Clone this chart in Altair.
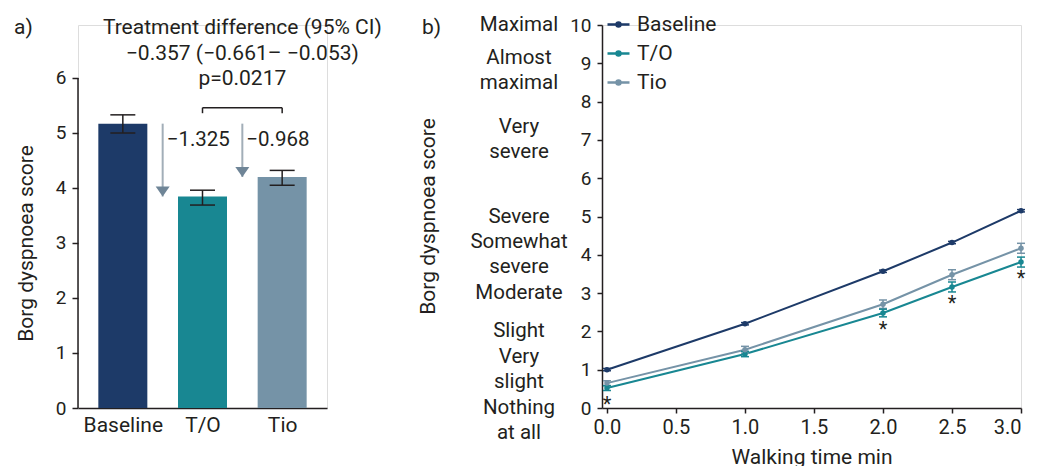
import altair as alt
import pandas as pd

FONT = "Roboto"
INK = "#231f20"

# ---------------- Panel a data ----------------
groups = ["Baseline", "T/O", "Tio"]
bar_means = [5.17, 3.845, 4.20]
bar_lo = [5.00, 3.69, 4.05]
bar_hi = [5.33, 3.96, 4.32]
bar_colors = ["#1d3a68", "#188792", "#7593a7"]
diff_labels = ["\u22121.325", "\u22120.968"]
title_lines = ["Treatment difference (95% CI)",
               "\u22120.357 (\u22120.661\u2013 \u22120.053)",
               "p=0.0217"]

# ---------------- Panel b data ----------------
times = [0.0, 1.0, 2.0, 2.5, 3.0]
baseline_vals = [1.00, 2.20, 3.57, 4.32, 5.15]
baseline_err = [0.03, 0.03, 0.03, 0.03, 0.03]
to_vals = [0.52, 1.41, 2.48, 3.16, 3.81]
to_err = [0.06, 0.07, 0.10, 0.13, 0.13]
tio_vals = [0.65, 1.52, 2.71, 3.48, 4.17]
tio_err = [0.06, 0.09, 0.11, 0.13, 0.13]
sig_times = [0.0, 2.0, 2.5, 3.0]
borg_labels = [["Maximal"], ["Almost", "maximal"], ["Very", "severe"], ["Severe"],
               ["Somewhat", "severe"], ["Moderate"], ["Slight"], ["Very", "slight"],
               ["Nothing", "at all"]]
borg_label_y = [10, 8.8, 7, 5, 4, 3, 2, 1, -0.33]

# ================= Panel a =================
idx = list(range(len(groups)))
dfa = pd.DataFrame({"idx": idx, "group": groups, "mean": bar_means,
                    "lo": bar_lo, "hi": bar_hi})
label_expr = "[" + ",".join("'%s'" % g for g in groups) + "][datum.value]"

xa_scale = alt.Scale(domain=[-0.5, 2.5], nice=False, zero=False)
ya_scale = alt.Scale(domain=[0, 6.9636], nice=False, zero=False)
xa_axis = alt.Axis(values=idx, labelExpr=label_expr, ticks=False, tickSize=0,
                   labelPadding=6, labelFontSize=21, title=None, grid=False,
                   domainColor=INK, domainWidth=1.5, labelColor=INK, labelFont=FONT,
                   labelOverlap=False)
ya_axis = alt.Axis(values=[0, 1, 2, 3, 4, 5, 6], format="d", labelOverlap=False,
                   domain=False, grid=False,
                   tickSize=6, tickColor=INK, tickWidth=1.5, labelPadding=6,
                   labelFontSize=19, labelColor=INK, labelFont=FONT,
                   title="Borg dyspnoea score", titleFontSize=21,
                   titleFont=FONT, titleFontWeight="normal", titleColor=INK,
                   titleX=-42, titleY=218)


def XA(f):
    return alt.X(f, scale=xa_scale, axis=xa_axis)


def YA(f):
    return alt.Y(f, scale=ya_scale, axis=ya_axis)


bars = alt.Chart(dfa).mark_bar(size=49).encode(
    x=XA("idx:Q"), y=YA("mean:Q"),
    color=alt.Color("group:N", scale=alt.Scale(domain=groups, range=bar_colors),
                    legend=None))
one = pd.DataFrame({"k": [0]})
yaxis_line = alt.Chart(one).mark_rule(color=INK, strokeWidth=1.5).encode(
    x=alt.value(0), y=alt.datum(0, scale=ya_scale, axis=ya_axis), y2=alt.datum(6))
err_a = alt.Chart(dfa).mark_rule(color=INK, strokeWidth=1.5).encode(
    x=XA("idx:Q"), y=YA("lo:Q"), y2="hi:Q")
cap_lo = alt.Chart(dfa).mark_tick(orient="horizontal", size=25, thickness=1.5,
                                  color=INK, opacity=1).encode(x=XA("idx:Q"), y=YA("lo:Q"))
cap_hi = alt.Chart(dfa).mark_tick(orient="horizontal", size=25, thickness=1.5,
                                  color=INK, opacity=1).encode(x=XA("idx:Q"), y=YA("hi:Q"))

arrows = pd.DataFrame({"ax": [0.5, 1.5], "start": [bar_means[0]] * 2,
                       "end": [bar_means[1], bar_means[2]], "lab": diff_labels})
shaft = alt.Chart(arrows).mark_rule(color="#a2aeb8", strokeWidth=2).encode(
    x=XA("ax:Q"), y=YA("start:Q"), y2="end:Q")
head = alt.Chart(arrows).mark_point(shape="M-0.7,-1L0.7,-1L0,0Z", size=400,
                                    filled=True, color="#6f8597", opacity=1).encode(
    x=XA("ax:Q"), y=YA("end:Q"))
diff_text = alt.Chart(arrows).mark_text(align="left", baseline="middle", dx=4,
                                        fontSize=20.5, font=FONT, color=INK).encode(
    x=XA("ax:Q"), y=alt.datum(4.87, scale=ya_scale, axis=ya_axis), text="lab:N")

brk = pd.DataFrame({"bx": [1, 2], "top": [5.46, 5.46], "drop": [5.36, 5.36]})
brk_h = alt.Chart(brk).mark_rule(color=INK, strokeWidth=1.5).encode(
    x=alt.X("min(bx):Q", scale=xa_scale, axis=xa_axis), x2=alt.X2("max(bx)"),
    y=alt.Y("max(top):Q", scale=ya_scale, axis=ya_axis))
brk_v = alt.Chart(brk).mark_rule(color=INK, strokeWidth=1.5).encode(
    x=XA("bx:Q"), y=YA("top:Q"), y2="drop:Q")

tl = pd.DataFrame({"t": [title_lines]})
title_txt = alt.Chart(tl).mark_text(align="center", baseline="alphabetic",
                                    fontSize=21, font=FONT, color=INK,
                                    lineHeight=25.5).encode(
    x=alt.datum(1.5, scale=xa_scale, axis=xa_axis), y=alt.value(9), text="t:N")
tag_a = alt.Chart(one).mark_text(align="left", baseline="alphabetic", fontSize=21,
                                 font=FONT, color=INK).encode(
    x=alt.value(-64), y=alt.value(9), text=alt.value("a)"))

panel_a = alt.layer(bars, yaxis_line, err_a, cap_lo, cap_hi, shaft, head, diff_text,
                    brk_h, brk_v, title_txt, tag_a).properties(width=249, height=383)

# ================= Panel b =================
series = ["Baseline", "T/O", "Tio"]
rows = []
for name, vals, errs in [("Baseline", baseline_vals, baseline_err),
                         ("T/O", to_vals, to_err), ("Tio", tio_vals, tio_err)]:
    for t, v, e in zip(times, vals, errs):
        rows.append({"time": t, "series": name, "val": v, "lo": v - e, "hi": v + e})
dfb = pd.DataFrame(rows)

xb_scale = alt.Scale(domain=[-0.036, 3.0], nice=False, zero=False)
yb_scale = alt.Scale(domain=[0, 10], nice=False, zero=False)
xb_axis = alt.Axis(values=[0, 0.5, 1, 1.5, 2, 2.5, 3], format=".1f",
                   labelOverlap=False,
                   tickSize=5, tickColor=INK, tickWidth=1.5, labelPadding=4,
                   labelFontSize=20, labelColor=INK, labelFont=FONT,
                   domainColor=INK, domainWidth=1.5, grid=False,
                   title="Walking time min", titleFontSize=21, titleFont=FONT,
                   titleFontWeight="normal", titleColor=INK, titlePadding=9)
yb_axis = alt.Axis(values=list(range(11)), format="d", labelOverlap=False,
                   tickSize=5, tickColor=INK,
                   tickWidth=1.5, labelPadding=6, labelFontSize=19,
                   labelColor=INK, labelFont=FONT, domainColor=INK,
                   domainWidth=1.5, grid=False,
                   title="Borg dyspnoea score", titleFontSize=21,
                   titleFont=FONT, titleFontWeight="normal", titleColor=INK,
                   titleX=-164, titleY=191)


def XB(f):
    return alt.X(f, scale=xb_scale, axis=xb_axis)


def YB(f):
    return alt.Y(f, scale=yb_scale, axis=yb_axis)


col_enc = alt.Color("series:N", scale=alt.Scale(domain=series, range=bar_colors),
                    sort=series,
                    legend=alt.Legend(title=None, orient="none", legendX=4,
                                      legendY=-13,
                                      symbolType="M-1,0L1,0M-0.18,0A0.18,0.18,0,1,0,0.18,0A0.18,0.18,0,1,0,-0.18,0Z",
                                      symbolSize=484, symbolStrokeWidth=2.5,
                                      labelFontSize=21, labelFont=FONT,
                                      labelColor=INK, labelOffset=6,
                                      rowPadding=6, padding=0))

lines = alt.Chart(dfb).mark_line(strokeWidth=2).encode(
    x=XB("time:Q"), y=YB("val:Q"), color=col_enc)
pts = alt.Chart(dfb).mark_circle(size=30, opacity=1).encode(
    x=XB("time:Q"), y=YB("val:Q"), color=col_enc)
err_b = alt.Chart(dfb).mark_rule(strokeWidth=1.5).encode(
    x=XB("time:Q"), y=YB("lo:Q"), y2="hi:Q", color=col_enc)
capb_lo = alt.Chart(dfb).mark_tick(orient="horizontal", size=8, thickness=1.5,
                                   opacity=1).encode(
    x=XB("time:Q"), y=YB("lo:Q"), color=col_enc)
capb_hi = alt.Chart(dfb).mark_tick(orient="horizontal", size=8, thickness=1.5,
                                   opacity=1).encode(
    x=XB("time:Q"), y=YB("hi:Q"), color=col_enc)

sig = dfb[(dfb.series == "T/O") & (dfb.time.isin(sig_times))]
stars = alt.Chart(sig).mark_text(text="*", fontSize=20, font=FONT, color=INK,
                                 baseline="middle", dy=17).encode(
    x=XB("time:Q"), y=YB("val:Q"))

bl = pd.DataFrame({"lab": borg_labels, "pos": borg_label_y,
                   "n": [len(l) for l in borg_labels]})
borg_one = alt.Chart(bl).transform_filter("datum.n == 1").mark_text(
    align="center", baseline="middle", fontSize=20.5, font=FONT, color=INK,
    lineHeight=25).encode(x=alt.value(-83), y=YB("pos:Q"), text="lab:N")
borg_two = alt.Chart(bl).transform_filter("datum.n == 2").mark_text(
    align="center", baseline="middle", fontSize=20.5, font=FONT, color=INK,
    lineHeight=25, dy=-12.5).encode(x=alt.value(-83), y=YB("pos:Q"), text="lab:N")
tag_b = alt.Chart(one).mark_text(align="left", baseline="alphabetic", fontSize=21,
                                 font=FONT, color=INK).encode(
    x=alt.value(-180), y=alt.value(9), text=alt.value("b)"))

panel_b = alt.layer(lines, err_b, capb_lo, capb_hi, pts, stars, borg_one, borg_two,
                    tag_b).properties(width=419, height=383)

chart = alt.hconcat(panel_a, panel_b, spacing=275, bounds="flush").resolve_scale(
    color="independent").configure_view(stroke=None).configure(
    font=FONT, padding={"left": 5, "top": 3, "right": 5, "bottom": 5})

chart.save("out.html", embed_options={"renderer": "svg", "actions": False})
